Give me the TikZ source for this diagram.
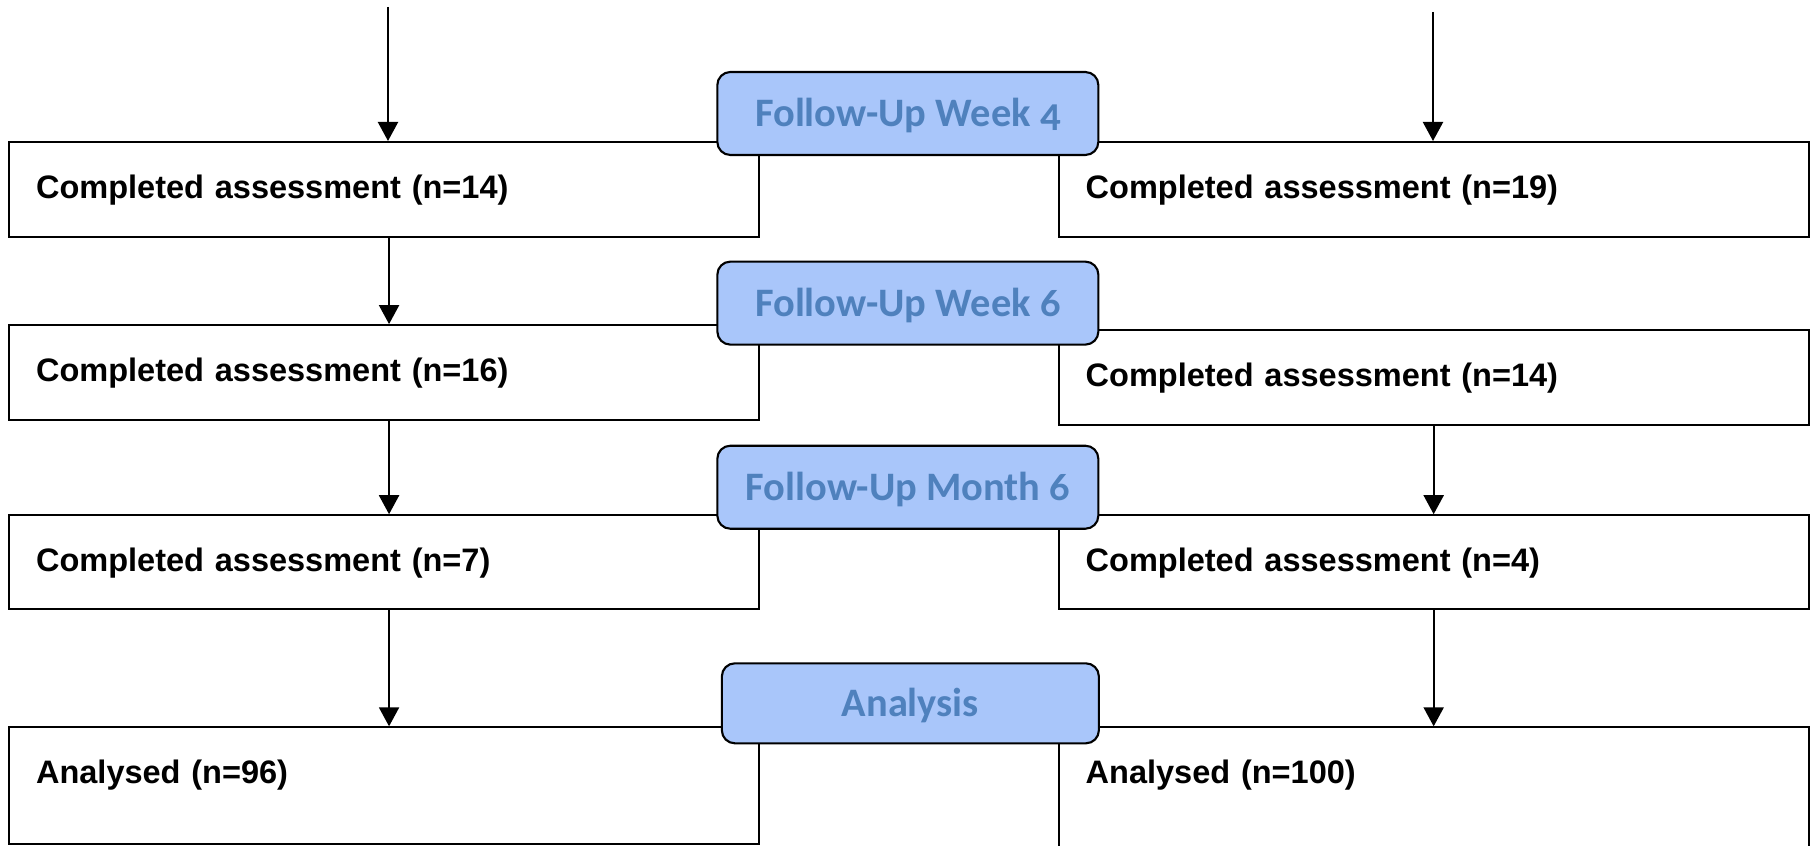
\documentclass[tikz,border=0pt]{standalone}
\usepackage{fontspec}
\setmainfont{Liberation Sans}
\newfontfamily\phasefont[Numbers=OldStyle]{Carlito}
\usepackage{tikz}
\usetikzlibrary{arrows.meta, positioning, calc}
\definecolor{phasefill}{RGB}{169,198,250}
\definecolor{phasetext}{RGB}{79,129,189}

\begin{document}
\begin{tikzpicture}[
  node distance=1.8cm,
  every node/.style={font=\fontsize{18.5}{22}\selectfont\bfseries},
  block/.style={
    rectangle, draw=black, line width=1.2pt, fill=white,
    text width=13.92cm, align=left, inner xsep=0.54cm, inner ysep=0pt,
    minimum height=1.9cm, text height=0.5cm, text depth=0.14cm
  },
  phase/.style={
    rectangle, rounded corners=0.26cm, draw=black, line width=1.2pt,
    fill=phasefill, text=phasetext,
    minimum width=7.62cm, minimum height=1.66cm,
    text height=0.6cm, text depth=0.06cm,
    font=\phasefont\fontsize{23}{27}\selectfont\bfseries
  },
  arr/.style={-{Triangle[length=0.38cm,width=0.4cm]}, line width=1.2pt}
]

\useasboundingbox (0,0) rectangle (36.24,-16.92);

%% ── Row 1: Week 4 ────────────────────────────────────
\node[block, anchor=north west] (c1l) at (0.16,-2.82)
  {Completed assessment (n=14)};
\node[block, right=5.95cm of c1l] (c1r)
  {Completed assessment (n=19)};

%% ── Row 2: Week 6 ────────────────────────────────────
\node[block, below=1.72cm of c1l] (c2l)
  {Completed assessment (n=16)};
\node[block, below=1.82cm of c1r] (c2r)
  {Completed assessment (n=14)};

%% ── Row 3: Month 6 ───────────────────────────────────
\node[block, below=1.86cm of c2l, minimum height=1.88cm] (c3l)
  {Completed assessment (n=7)};
\node[block, below=1.76cm of c2r, minimum height=1.88cm] (c3r)
  {Completed assessment (n=4)};

%% ── Row 4: Analysis ──────────────────────────────────
\node[block, below=2.32cm of c3l, minimum height=2.34cm,
      text depth=0.58cm] (anl)
  {Analysed (n=96)};
\node[block, below=2.32cm of c3r, minimum height=2.7cm,
      text depth=0.96cm] (anr)
  {Analysed (n=100)};

%% ── Phase labels ─────────────────────────────────────
\node[phase] (p1) at ($(c1l.north east)!0.5!(c1r.north west)+(-0.02,0.55)$)
  {Follow-Up Week 4};
\node[phase] (p2) at ($(c2l.north east)!0.5!(c2r.north west)+(-0.02,0.47)$)
  {Follow-Up Week 6};
\node[phase] (p3) at ($(c3l.north east)!0.5!(c3r.north west)+(-0.02,0.54)$)
  {Follow-Up Month 6};
\node[phase, minimum width=7.54cm, minimum height=1.6cm]
  (p4) at ($(anl.north east)!0.5!(anr.north west)+(0.03,0.46)$)
  {Analysis};

%% ── Arrows ───────────────────────────────────────────
\coordinate (inl) at (7.76,-0.14);
\coordinate (inr) at (28.66,-0.24);
\draw[arr] (inl) -- (inl |- c1l.north);
\draw[arr] (inr) -- (inr |- c1r.north);
\draw[arr] ([xshift=1mm]c1l.south) -- ([xshift=1mm]c2l.north);
\draw[arr] ([xshift=1mm]c2l.south) -- ([xshift=1mm]c3l.north);
\draw[arr] (c2r.south) -- (c3r.north);
\draw[arr] ([xshift=1mm]c3l.south) -- ([xshift=1mm]anl.north);
\draw[arr] (c3r.south) -- (anr.north);

\end{tikzpicture}
\end{document}
